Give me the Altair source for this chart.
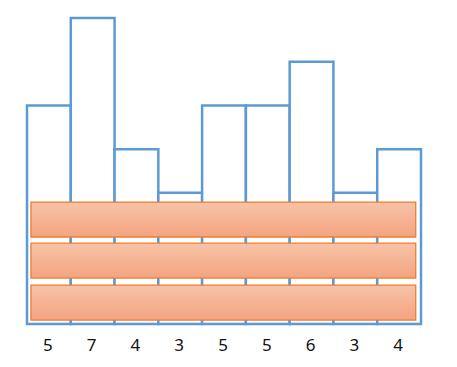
import altair as alt
import pandas as pd

values = [5, 7, 4, 3, 5, 5, 6, 3, 4]
positions = list(range(len(values)))

band_start = [1.99, 1.05, 0.09]
band_end = [2.79, 1.85, 0.89]
band_left = [0.09, 0.09, 0.09]
band_right = [8.88, 8.88, 8.88]

bars = pd.DataFrame({
    "x0": positions,
    "x1": [p + 1 for p in positions],
    "xc": [p + 0.5 for p in positions],
    "v": values,
    "label": [str(v) for v in values],
})
bands = pd.DataFrame({"y0": band_start, "y1": band_end, "xa": band_left, "xb": band_right})

xs = alt.Scale(domain=[0, 9], nice=False, zero=False)
ys = alt.Scale(domain=[0, 7], nice=False)

base_bars = alt.Chart(bars).mark_rect(
    fill="white", stroke="#5B9BD5", strokeWidth=2.5
).encode(
    x=alt.X("x0:Q", scale=xs, axis=None),
    x2="x1:Q",
    y=alt.Y("v:Q", scale=ys, axis=None),
    y2=alt.datum(0),
)

grad = {
    "gradient": "linear",
    "x1": 0, "y1": 0, "x2": 0, "y2": 1,
    "stops": [{"offset": 0, "color": "#F7C3A9"}, {"offset": 1, "color": "#F4A47F"}],
}

band_layer = alt.Chart(bands).mark_rect(
    fill=grad, stroke="#ED7D31", strokeWidth=1.3
).encode(
    x=alt.X("xa:Q", scale=xs, axis=None),
    x2="xb:Q",
    y=alt.Y("y0:Q", scale=ys, axis=None),
    y2="y1:Q",
)

labels = alt.Chart(bars).mark_text(
    fontSize=17, font="Noto Sans", color="#111111", baseline="middle", dx=-1
).encode(
    x=alt.X("xc:Q", scale=xs, axis=None),
    y=alt.value(328),
    text="label:N",
)

chart = alt.layer(base_bars, band_layer, labels).properties(
    width=394, height=306,
    autosize=alt.AutoSizeParams(type="none"),
    padding={"left": 19, "top": 10, "right": 20, "bottom": 40},
).configure_view(stroke=None)

chart.save("out.html", embed_options={"renderer": "svg", "actions": False})
